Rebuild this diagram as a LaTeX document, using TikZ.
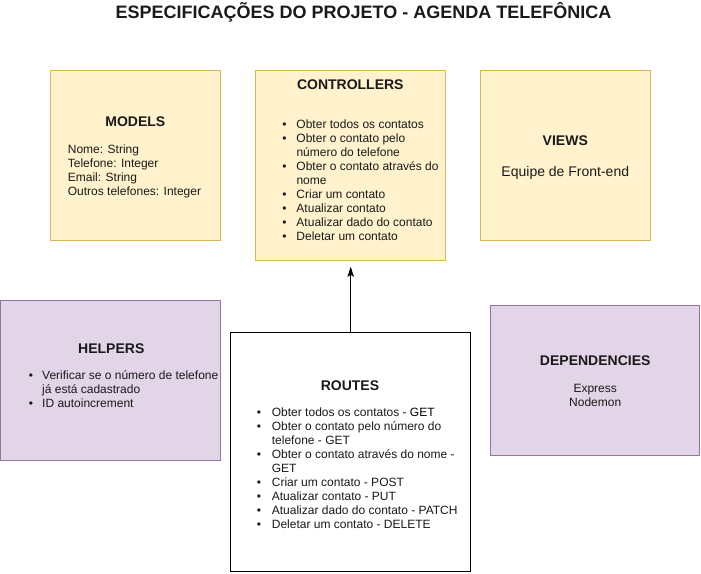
\documentclass[tikz,border=0pt]{standalone}
\usepackage{fontspec}
\setmainfont{Liberation Sans}
\usetikzlibrary{arrows.meta}
\definecolor{yfill}{HTML}{FFF2CC}
\definecolor{ydraw}{HTML}{D6B656}
\definecolor{pfill}{HTML}{E1D5E7}
\definecolor{pdraw}{HTML}{9673A6}
\definecolor{txt}{HTML}{1A1A1A}
\newcommand\bul{\makebox[0pt]{\textbullet}}
\begin{document}
\begin{tikzpicture}[x=1pt,y=-1pt,
  box/.style={draw, line width=1pt, inner sep=0pt, rectangle},
  ybox/.style={box, draw=ydraw, fill=yfill},
  pbox/.style={box, draw=pdraw, fill=pfill},
  wbox/.style={box, draw=black, fill=white},
  ttl/.style={font=\fontsize{14}{16}\selectfont\bfseries, anchor=base, inner sep=0pt, text=txt},
  body/.style={font=\fontsize{12}{14}\selectfont, anchor=base west, inner sep=0pt, text=txt},
  cbody/.style={font=\fontsize{12}{14}\selectfont, anchor=base, inner sep=0pt, text=txt},
  conn/.style={line width=1pt, -{Stealth[length=10pt,width=6.5pt,inset=2pt]}}
  ]
\useasboundingbox (0,0) rectangle (701,573);

% boxes
\node[ybox, minimum width=170pt, minimum height=170pt] (models) at (135.3,155.3) {};
\node[ybox, minimum width=190pt, minimum height=190pt] (controllers) at (350.3,165.3) {};
\node[ybox, minimum width=170pt, minimum height=170pt] (views) at (565.3,155.3) {};
\node[pbox, minimum width=219.9pt, minimum height=160.4pt] (helpers) at (110.75,380.5) {};
\node[wbox, minimum width=240pt, minimum height=239.6pt] (routes) at (350.7,452.1) {};
\node[pbox, minimum width=209.6pt, minimum height=150pt] (deps) at (595.1,380.3) {};

% title
\node[font=\fontsize{18}{20}\selectfont\bfseries, anchor=base, inner sep=0pt, text=txt] (title) at (363.5,18.5) {ESPECIFICAÇÕES DO PROJETO - AGENDA TELEFÔNICA};

% models
\node[ttl] (modelsT) at (135.3,126) {MODELS};
\node[body] (modelsB) at (67.7,153.5) {\begin{tabular}[t]{@{}l@{}}Nome: String\\Telefone: Integer\\Email: String\\Outros telefones: Integer\end{tabular}};

% controllers
\node[ttl] (controllersT) at (350.3,89) {CONTROLLERS};
\node[body] (controllersB) at (284.3,128.6) {\begin{tabular}[t]{@{}c@{\hspace{12pt}}l@{}}
\bul & Obter todos os contatos\\
\bul & Obter o contato pelo\\
     & número do telefone\\
\bul & Obter o contato através do\\
     & nome\\
\bul & Criar um contato\\
\bul & Atualizar contato\\
\bul & Atualizar dado do contato\\
\bul & Deletar um contato
\end{tabular}};

% views
\node[ttl] (viewsT) at (565.3,145.3) {VIEWS};
\node[font=\fontsize{14}{16}\selectfont, anchor=base, inner sep=0pt, text=txt] (viewsB) at (565.3,176) {Equipe de Front-end};

% helpers
\node[ttl] (helpersT) at (111.3,353.3) {HELPERS};
\node[body] (helpersB) at (30.7,379.3) {\begin{tabular}[t]{@{}c@{\hspace{11.3pt}}l@{}}
\bul & Verificar se o número de telefone\\
     & já está cadastrado\\
\bul & ID autoincrement
\end{tabular}};

% routes
\node[ttl] (routesT) at (350,390.7) {ROUTES};
\node[body] (routesB) at (258.7,416) {\begin{tabular}[t]{@{}c@{\hspace{13pt}}l@{}}
\bul & Obter todos os contatos - {\color{black}GET}\\
\bul & Obter o contato pelo número do\\
     & telefone - GET\\
\bul & Obter o contato através do nome -\\
     & GET\\
\bul & Criar um contato - POST\\
\bul & Atualizar contato - PUT\\
\bul & Atualizar dado do contato - PATCH\\
\bul & Deletar um contato - DELETE
\end{tabular}};

% dependencies
\node[ttl] (depsT) at (595.2,365) {DEPENDENCIES};
\node[cbody] (depsB1) at (595.2,392) {Express};
\node[cbody] (depsB2) at (595.2,406.5) {Nodemon};

% connector
\draw[conn, shorten >=6pt] (routes.north) -- (routes.north |- controllers.south);
\end{tikzpicture}
\end{document}
